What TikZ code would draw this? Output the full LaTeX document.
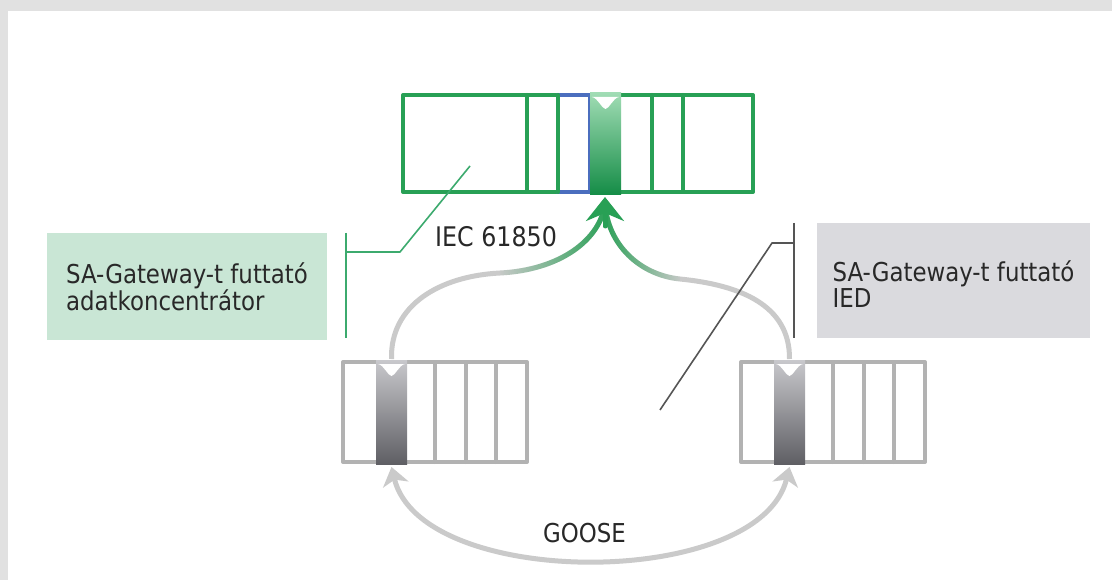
\documentclass[tikz,border=0pt]{standalone}
\usepackage{fontspec}
\setmainfont{DejaVu Sans}[FakeStretch=0.88]
\usetikzlibrary{arrows.meta,fadings}
\definecolor{iecgreen}{RGB}{40,160,85}
\definecolor{iecblue}{RGB}{75,110,190}
\definecolor{barlight}{RGB}{160,220,180}
\definecolor{bardark}{RGB}{20,140,70}
\definecolor{devgray}{RGB}{178,178,178}
\definecolor{devlight}{RGB}{200,200,204}
\definecolor{devdark}{RGB}{95,95,100}
\definecolor{arcgray}{RGB}{202,202,202}
\definecolor{dcfill}{RGB}{201,230,213}
\definecolor{iedfill}{RGB}{218,218,222}
\definecolor{leadgreen}{RGB}{60,170,110}
\definecolor{leadgray}{RGB}{85,85,85}
\definecolor{txt}{RGB}{40,40,40}
\definecolor{bordergray}{RGB}{225,225,225}
\tikzfading[name=fade l2r, left color=transparent!100, right color=transparent!0]
\tikzfading[name=fade r2l, left color=transparent!0, right color=transparent!100]
\begin{document}
\begin{tikzpicture}[x=1pt, y=-1pt, line join=round, line cap=round,
	font=\fontsize{26}{24}\selectfont,
	frame/.style={draw=iecgreen, line width=4pt},
	devframe/.style={draw=devgray, line width=4pt},
	infobox/.style={text=txt, align=left, inner sep=0pt},
	lbl/.style={text=txt, inner sep=0pt, anchor=base west},
	arcline/.style={draw=arcgray, line width=5pt, line cap=butt},
	greenarc/.style={draw=iecgreen, line width=5pt, line cap=butt},
	iecarrow/.style={draw=iecgreen, line width=5pt, -{Stealth[length=24pt, width=38pt, inset=8pt]}},
	goosearrow/.style={draw=arcgray, line width=5pt, {Stealth[length=18pt, width=26pt, inset=5pt]}-{Stealth[length=18pt, width=26pt, inset=5pt]}},
	leadline/.style={line width=1.6pt, line cap=butt}]
	\useasboundingbox (0,0) rectangle (1112,580);
	\fill[bordergray] (0,0) rectangle (1112,580);
	\fill[white] (8,11) rectangle (1112,580);
	% boxes
	\node[infobox, fill=dcfill, minimum width=280pt, minimum height=107pt] (dc) at (187,286.5) {SA-Gateway-t futtató\\adatkoncentrátor};
	\node[infobox, fill=iedfill, minimum width=273pt, minimum height=115pt] (ied) at (953.5,280.5) {\rule{0pt}{28pt}SA-Gateway-t futtató\\IED};
	% IEC 61850 bus
	\draw[frame] (403,95) rectangle (753,192);
	\draw[line width=4pt, iecblue] (558,95) -- (590,95) -- (590,192) -- (558,192);
	\foreach \x in {527,558,652,683} \draw[frame] (\x,95) -- (\x,192);
	\shade[top color=barlight, bottom color=bardark] (590,93) rectangle (621,195);
	\fill[white] (592,97) .. controls (598,98) and (602,109) .. (605.5,109) .. controls (609,109) and (613,98) .. (619,97) -- cycle;
	% devices
	\foreach \s in {0,398}{
		\draw[devframe] (343+\s,362) rectangle (527+\s,462);
		\foreach \x in {435,466,496} \draw[devframe] (\x+\s,362) -- (\x+\s,462);
		\shade[top color=devlight, bottom color=devdark] (376+\s,360) rectangle (407+\s,464);
		\fill[white] (378+\s,364) .. controls (384+\s,365) and (388+\s,376) .. (391.5+\s,376) .. controls (395+\s,376) and (399+\s,365) .. (405+\s,364) -- cycle;
	}
	\coordinate (dcout) at (391.5,359);
	\coordinate (iedout) at (789.5,359);
	\coordinate (dcin) at (391.5,467);
	\coordinate (iedin) at (789.5,467);
	\coordinate (lmid) at (500,273);
	\coordinate (rmid) at (680,279);
	\coordinate (iecend) at (605,204);
	\coordinate (iecstem) at (605,226);
	\coordinate (iecin) at (605,197);
	% arcs to the bus
	\draw[arcline] (dcout) .. controls (390,305) and (440,276) .. (lmid) .. controls (560,270) and (600,240) .. (iecend);
	\draw[arcline] (iedout) .. controls (790,305) and (740,285) .. (rmid) .. controls (640,275) and (608,245) .. (iecend);
	\draw[greenarc, path fading=fade l2r] (lmid) .. controls (560,270) and (600,240) .. (iecend);
	\draw[greenarc, path fading=fade r2l] (rmid) .. controls (640,275) and (608,245) .. (iecend);
	\draw[iecarrow] (iecstem) -- (iecin);
	% GOOSE
	\draw[goosearrow] (dcin) .. controls +(30,123) and +(-30,123) .. (iedin);
	% leaders
	\coordinate (dcbrk) at (346,252);
	\coordinate (dcpin) at (470,166);
	\coordinate (iedbrk) at (794,243);
	\coordinate (iedpin) at (660,410);
	\draw[leadline, leadgreen] (346,233) -- (346,338);
	\draw[leadline, leadgreen] (dcbrk) -- ++(54,0) -- (dcpin);
	\draw[leadline, leadgray] (794,223) -- (794,338);
	\draw[leadline, leadgray] (iedbrk) -- ++(-22,0) -- (iedpin);
	\node[lbl, font=\fontsize{27}{27}\selectfont] (iec) at (435,247) {IEC 61850};
	\node[lbl] (goose) at (543,542) {GOOSE};
\end{tikzpicture}
\end{document}
